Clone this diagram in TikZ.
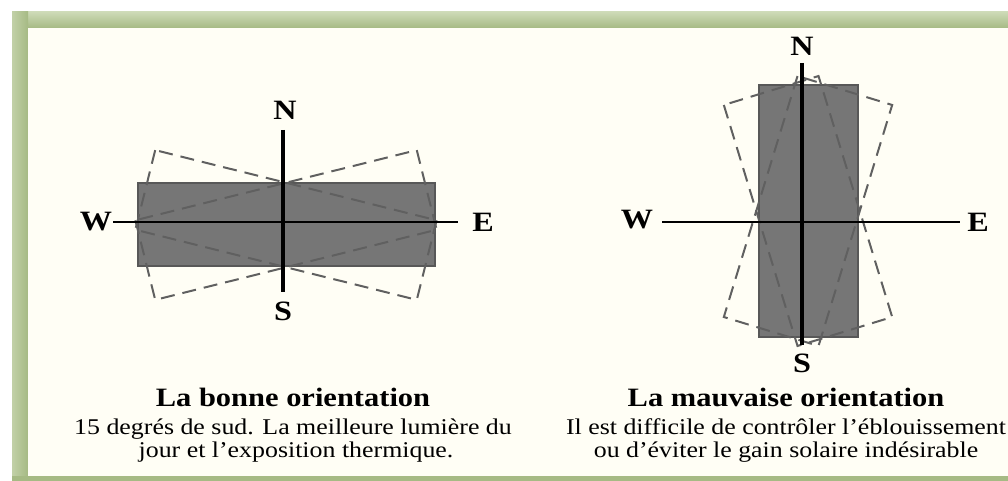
\documentclass[tikz,border=0pt]{standalone}
\usepackage{fontspec}
\setmainfont{Liberation Serif}[FakeStretch=1.15]
\definecolor{framegreen}{RGB}{166,186,132}
\definecolor{framelight}{RGB}{205,218,182}
\definecolor{rectgray}{RGB}{118,118,118}
\definecolor{rectedge}{RGB}{88,88,88}
\definecolor{dashgray}{RGB}{96,96,96}
\tikzset{
  axis/.style={draw=black, line width=2pt},
  axisv/.style={draw=black, line width=3.2pt},
  bldg/.style={fill=rectgray, draw=rectedge, line width=1.2pt},
  ghost/.style={draw=dashgray, line width=2pt, dash pattern=on 14pt off 8pt},
  compass/.style={font=\fontsize{28}{30}\selectfont\bfseries, inner sep=0pt},
  titletext/.style={font=\fontsize{26.5}{28}\selectfont\bfseries, anchor=base, inner sep=0pt},
  bodytext/.style={font=\fontsize{22.5}{24}\selectfont, anchor=base, inner sep=0pt}
}
\begin{document}
\begin{tikzpicture}[x=1pt,y=-1pt]
\useasboundingbox (0,0) rectangle (1008,481);
% frame
\fill[white] (0,0) rectangle (1008,481);
\fill[top color=framelight, bottom color=framegreen] (12,12) rectangle (1008,28);
\fill[left color=framelight!70!framegreen, right color=framegreen] (12,12) rectangle (28,481);
\fill[framegreen] (12,476) rectangle (1008,481);
\fill[white!96!yellow] (28,28) rectangle (1008,476);

% ---------------- left diagram ----------------
\fill[bldg] (138,183) rectangle (435,266);
\begin{scope}[shift={(286,225)}]
  \draw[ghost, rotate=14] (-145,-41) rectangle (145,41);
  \draw[ghost, rotate=-14] (-145,-41) rectangle (145,41);
\end{scope}
\coordinate (LW) at (113,222);
\coordinate (LE) at (458,222);
\coordinate (LN) at (283,130);
\coordinate (LS) at (283,292);
\draw[axis] (LW) -- (LE);
\draw[axisv] (LN) -- (LS);
\node[compass] (nN1) at (285,110) {N};
\node[compass] (nS1) at (283,311) {S};
\node[compass] (nW1) at (96,222) {W};
\node[compass] (nE1) at (483,222) {E};

% ---------------- right diagram ----------------
\fill[bldg] (759,85) rectangle (858,337);
\begin{scope}[shift={(808,211)}]
  \draw[ghost, rotate=17] (-49.5,-126) rectangle (49.5,126);
  \draw[ghost, rotate=-17] (-49.5,-126) rectangle (49.5,126);
\end{scope}
\coordinate (RW) at (662,222);
\coordinate (RE) at (960,222);
\coordinate (RN) at (802,63);
\coordinate (RS) at (802,345);
\draw[axis] (RW) -- (RE);
\draw[axisv] (RN) -- (RS);
\node[compass] (nN2) at (802,46) {N};
\node[compass] (nS2) at (802,363) {S};
\node[compass] (nW2) at (637,220) {W};
\node[compass] (nE2) at (978,222) {E};

% ---------------- captions ----------------
\node[titletext] (t1) at (293,406) {La bonne orientation};
\node[bodytext] (a1) at (293,434) {15 degrés de sud. La meilleure lumière du};
\node[bodytext] (b1) at (296,457) {jour et l'exposition thermique.};

\node[titletext] (t2) at (786,406) {La mauvaise orientation};
\node[bodytext] (a2) at (786,434) {Il est difficile de contrôler l’éblouissement};
\node[bodytext] (b2) at (786,457) {ou d’éviter le gain solaire indésirable};
\end{tikzpicture}
\end{document}
